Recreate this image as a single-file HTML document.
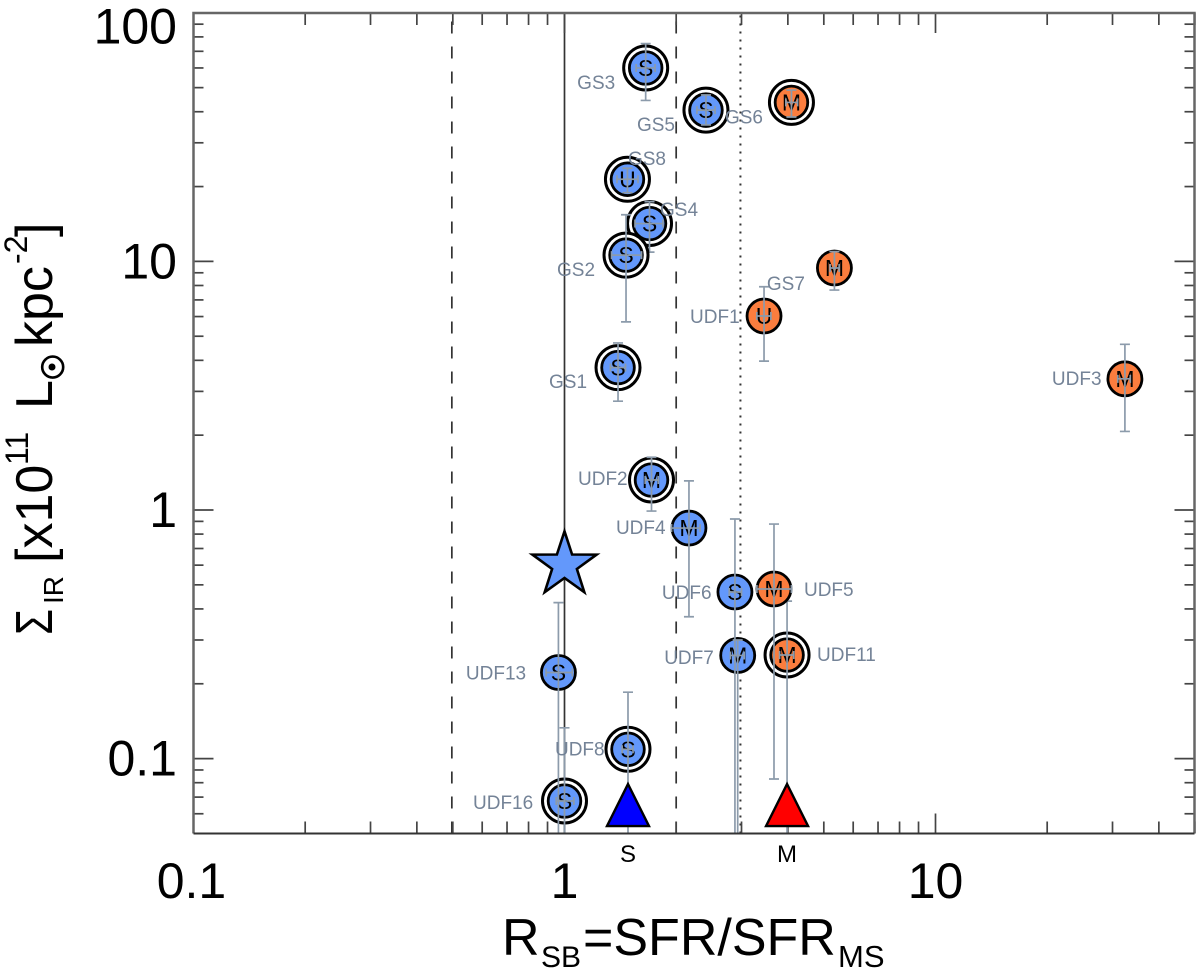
<!DOCTYPE html>
<html>
<head>
<meta charset="utf-8">
<title>Sigma IR vs RSB</title>
<style>
html,body{margin:0;padding:0;background:#fff;}
svg{display:block;font-family:"Liberation Sans",sans-serif;}
</style>
</head>
<body>
<svg id="chart" width="1200" height="974" viewBox="0 0 1200 974" xmlns="http://www.w3.org/2000/svg">
  <defs><clipPath id="plot-clip"><rect x="193.5" y="13" width="1001" height="820.5"/></clipPath></defs>
  <rect width="1200" height="974" fill="#fff"/>
  <g id="reference-lines"></g>
  <g id="ticks"></g>
  <g id="marks" clip-path="url(#plot-clip)"></g>
  <g id="labels"></g>
  <path d="M193.5 833.5V13H1194.5V833.5" fill="none" stroke="#666" stroke-width="2.5"/>
  <line x1="193.5" x2="1194.5" y1="833.5" y2="833.5" stroke="#333" stroke-width="2"/>

  <g id="y-title" transform="translate(52,635) rotate(-90)" fill="#000">
    <text x="0" y="0" font-size="52" textLength="26" lengthAdjust="spacingAndGlyphs">Σ</text>
    <text x="31" y="11" font-size="28">IR</text>
    <text x="72" y="0" font-size="52">[x10</text>
    <text x="170" y="-24" font-size="32">11</text>
    <text x="226" y="0" font-size="52">L</text>
    <text x="268" y="12" font-size="36" text-anchor="middle" style="font-family:'DejaVu Sans',sans-serif">⊙</text>
    <circle cx="268" cy="0" r="3.5" fill="#000"/>
    <text x="288" y="0" font-size="52">kpc</text>
    <text x="371" y="-25" font-size="32">-2</text>
    <text x="398" y="0" font-size="52">]</text>
  </g>
  <g id="x-title" fill="#000">
    <text x="502" y="955" font-size="52">R</text>
    <text x="541" y="967" font-size="30">SB</text>
    <text x="583" y="955" font-size="52">=SFR/SFR</text>
    <text x="838" y="967" font-size="31">MS</text>
  </g>
</svg>
<script>
// ---- chart data (drawn in array order) ----
const galaxyNames = ["GS3","GS5","GS6","GS8","GS4","GS2","GS7","UDF1","UDF3","GS1","UDF2","UDF4","UDF7","UDF6","UDF11","UDF5","UDF16","UDF13","UDF8"];
const rsbValues   = [1.655,2.406,4.09,1.478,1.695,1.465,5.34,3.45,32.4,1.394,1.716,2.165,2.93,2.88,3.98,3.67,1.0,0.963,1.483];
const sigmaValues = [60,40.6,43.6,21.4,14.2,10.6,9.41,6.03,3.37,3.74,1.32,0.846,0.26,0.468,0.261,0.481,0.0675,0.222,0.109];
const sigmaHigh   = [75.2,46.7,48.9,23.7,17.4,15.4,10.95,7.91,4.64,4.7,1.63,1.31,0.3,0.92,0.43,0.878,0.133,0.424,0.185];
const sigmaLow    = [44.4,35.4,38.1,18.9,10.9,5.71,7.67,3.97,2.07,2.74,0.99,0.372,0.04,0.04,0.04,0.0828,0.04,0.04,0.04];
const rsbLow      = [1.56,2.275,3.95,1.385,1.549,1.339,5.2,3.3,31,1.33,1.65,1.943,2.8,2.78,3.8,3.3,0.95,0.892,1.43];
const rsbHigh     = [1.754,2.545,4.25,1.578,1.843,1.613,5.5,3.6,33.5,1.46,1.79,2.32,3.05,3.0,4.15,4.09,1.06,1.05,1.53];
const morphology  = ["S","S","M","U","S","S","M","U","M","S","M","M","M","S","M","M","S","S","S"];
const isMerger    = [0,0,1,0,0,0,1,1,1,0,0,0,0,0,1,1,0,0,0];
const hasRing     = [1,1,1,1,1,1,0,0,0,1,1,0,0,0,1,0,1,0,1];
const starPoint   = [1.0,0.601];
const medianRsb   = [1.483,3.98];
const medianSigma = [0.0621,0.0621];
const medianNames = ["S","M"];
const referenceRsb = [1,0.497,2,2.98];
const xMajorLabels = ["0.1","1","10"];
const xMajorValues = [0.1,1,10];
const yMajorLabels = ["0.1","1","10","100"];
const yMajorValues = [0.1,1,10,100];

// ---- layout (not data): label placement relative to its marker ----
const labelLayout = {GS3:[-68.5,14],GS5:[-69,14],GS6:[-66.5,14],GS8:[0.5,-21.5],GS4:[10.5,-14.5],GS2:[-69,14],GS7:[-67.5,15],
  UDF1:[-74,0],UDF3:[-73,-1],GS1:[-69,13.5],UDF2:[-73.5,-2],UDF4:[-73,-1],UDF6:[-73,0],UDF5:[30,0],UDF7:[-73.5,1.5],UDF11:[30,-1],UDF13:[-92.5,0],UDF8:[-73,-1],UDF16:[-91.5,1]};

const NS = "http://www.w3.org/2000/svg";
const X_ONE = 564.5, X_DEC = 371, Y_ONE = 510, Y_DEC = 248.6;
const LEFT = 193.5, RIGHT = 1194.5, TOP = 13, BOTTOM = 833.5;
const BLUE = "#6398fb", ORANGE = "#fb7d3e", ERR = "#8c9bab", LABEL = "#748397";
function xScale(v){ return X_ONE + Math.log10(v) * X_DEC; }
function yScale(v){ return Y_ONE - Math.log10(v) * Y_DEC; }
function make(tag, attrs, parent){
  const el = document.createElementNS(NS, tag);
  for (const k in attrs) el.setAttribute(k, attrs[k]);
  parent.appendChild(el);
  return el;
}
const refG = document.getElementById("reference-lines");
const tickG = document.getElementById("ticks");
const markG = document.getElementById("marks");
const labelG = document.getElementById("labels");

// reference lines, drawn bottom to top
referenceRsb.forEach(function(v, i){
  const px = xScale(v);
  const dash = i === 0 ? "" : (i === 3 ? "2 6" : "12 13");
  const ln = make("line", {x1:px, x2:px, y1:BOTTOM, y2:TOP, stroke:"#333", "stroke-width": i === 3 ? 2 : 1.7, "stroke-dasharray":dash}, refG);
  
  
});

// ticks
const tickStyle = {stroke:"#444", "stroke-width":1.7};
for (let d = -1; d <= 1; d++) {
  for (let m = 1; m <= 9; m++) {
    const v = m * Math.pow(10, d);
    if (v > 50) continue;
    const px = xScale(v), len = m === 1 ? 20 : 12;
    const b = make("line", Object.assign({x1:px, x2:px, y1:BOTTOM, y2:BOTTOM - len}, tickStyle), tickG);
    
    
    const t = make("line", Object.assign({x1:px, x2:px, y1:TOP, y2:TOP + len}, tickStyle), tickG);
    
    
  }
}
for (let d = -2; d <= 1; d++) {
  for (let m = 1; m <= 9; m++) {
    const v = m * Math.pow(10, d);
    if (v < 0.05) continue;
    const py = yScale(v), len = m === 1 ? 20 : 10;
    const l = make("line", Object.assign({x1:LEFT, x2:LEFT + len, y1:py, y2:py}, tickStyle), tickG);
    
    
    const r = make("line", Object.assign({x1:RIGHT, x2:RIGHT - len, y1:py, y2:py}, tickStyle), tickG);
    
    
  }
}

// tick labels
xMajorValues.forEach(function(v, i){
  const t = make("text", {x:xScale(v) - (i === 0 ? 2 : 0), y:898, "font-size":50, "text-anchor":"middle", fill:"#000"}, tickG);
  t.textContent = xMajorLabels[i];
  
  
});
yMajorValues.forEach(function(v, i){
  const base = v === 100 ? 43.5 : yScale(v) + 17;
  const t = make("text", {x:177, y:base, "font-size":50, "text-anchor":"end", fill:"#000"}, tickG);
  t.textContent = yMajorLabels[i];
  
  
});

// galaxy markers with their error bars on top
galaxyNames.forEach(function(name, i){
  const cx = xScale(rsbValues[i]), cy = yScale(sigmaValues[i]);
  if (hasRing[i]) {
    const ring = make("circle", {cx:cx, cy:cy, r:22, fill:"#fff", stroke:"#000", "stroke-width":3}, markG);
    
    
  }
  const disc = make("circle", {cx:cx, cy:cy, r:hasRing[i] ? 16.3 : 17, fill:isMerger[i] ? ORANGE : BLUE, stroke:"#000", "stroke-width":2.8}, markG);
  
  
  const letter = make("text", {x:cx, y:cy + 8, "font-size":23, "text-anchor":"middle", fill:"#000"}, markG);
  letter.textContent = morphology[i];
  
  
  const hi = yScale(sigmaHigh[i]), lo = yScale(sigmaLow[i]), xl = xScale(rsbLow[i]), xh = xScale(rsbHigh[i]);
  const d = "M" + cx + " " + hi + "V" + lo +
            "M" + (cx - 5) + " " + hi + "H" + (cx + 5) +
            "M" + (cx - 5) + " " + lo + "H" + (cx + 5) +
            "M" + xl + " " + cy + "H" + xh +
            "M" + xl + " " + (cy - 4) + "V" + (cy + 4) +
            "M" + xh + " " + (cy - 4) + "V" + (cy + 4);
  const err = make("path", {d:d, fill:"none", stroke:ERR, "stroke-width":1.7}, markG);
  
  
});

// star
(function(){
  const cx = xScale(starPoint[0]), cy = yScale(starPoint[1]);
  const pts = [];
  for (let k = 0; k < 10; k++) {
    const rad = k % 2 ? 13 : 33.7, a = -Math.PI / 2 + k * Math.PI / 5;
    pts.push((cx + rad * Math.cos(a)).toFixed(1) + "," + (cy + rad * Math.sin(a)).toFixed(1));
  }
  const star = make("polygon", {points:pts.join(" "), fill:BLUE, stroke:"#000", "stroke-width":2.6, "stroke-linejoin":"miter"}, markG);
  
  
})();

// median triangles + names below the axis
medianRsb.forEach(function(v, i){
  const cx = xScale(v), cy = yScale(medianSigma[i]);
  const tri = make("polygon", {points:cx + "," + (cy - 26) + " " + (cx - 21) + "," + (cy + 16) + " " + (cx + 21) + "," + (cy + 16), fill:i === 0 ? "#0000ff" : "#ff0000", stroke:"#000", "stroke-width":2.4}, markG);
  
  
  const t = make("text", {x:cx, y:862, "font-size":24, "text-anchor":"middle", fill:"#000"}, labelG);
  t.textContent = medianNames[i];
  
  
});

// galaxy labels
galaxyNames.forEach(function(name, i){
  const off = labelLayout[name];
  const t = make("text", {x:xScale(rsbValues[i]) + off[0], y:yScale(sigmaValues[i]) + off[1] + 7, "font-size":19, fill:LABEL}, labelG);
  t.textContent = name;
  
  
});
</script>
</body>
</html>
